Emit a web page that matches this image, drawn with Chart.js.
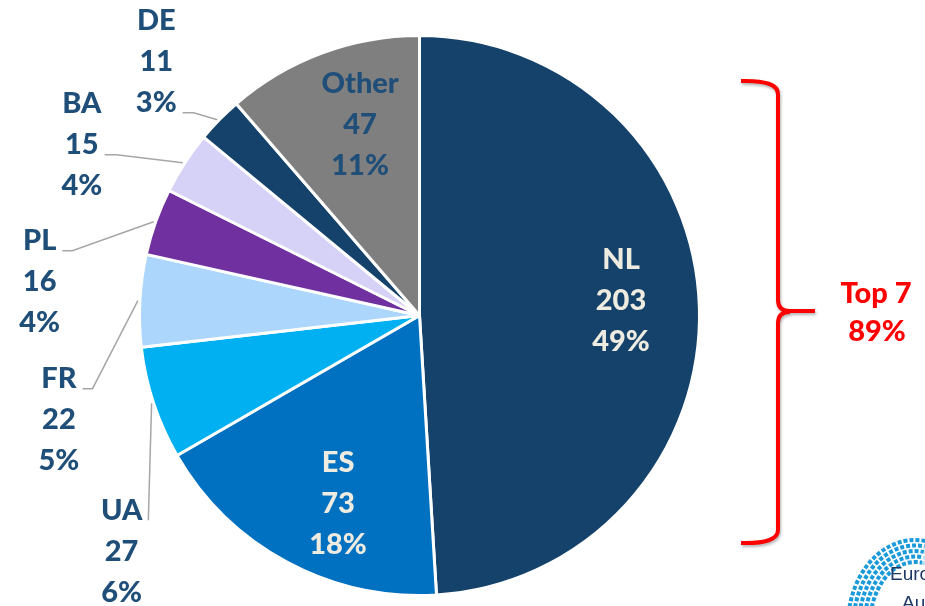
<!DOCTYPE html>
<html>
<head>
<meta charset="utf-8">
<script src="https://cdn.jsdelivr.net/npm/chart.js@4/dist/chart.umd.min.js"></script>
<style>
  html, body { margin: 0; padding: 0; background: #ffffff; }
  #wrap { width: 925px; height: 606px; position: relative; }
</style>
</head>
<body>
<div id="wrap"><canvas id="grafico" width="925" height="606"></canvas></div>
<script>
// Dados do gráfico
const paises = ["NL", "ES", "UA", "FR", "PL", "BA", "DE", "Other"];
const valores = [203, 73, 27, 22, 16, 15, 11, 47];
const percentuais = ["49%", "18%", "6%", "5%", "4%", "4%", "3%", "11%"];
const destaqueTexto = ["Top 7", "89%"];

// Estilos
const cores = ["#15426a", "#0070c0", "#00b0f0", "#add6fd", "#7030a0", "#d6d2f7", "#15426a", "#7f7f7f"];
const corTexto = "#1f4e79";
const corTextoClaro = "#eeece1";
const fonte = "900 29px Lato";
const entreLinhas = 41;

// posição dos rótulos (deslocamentos em relação à fatia)
const rotulos = [
    { dentro: true, dx: 0, dy: -9, claro: true },
    { dentro: true, dx: 14, dy: 11, claro: true },
    { dentro: false, dx: -32, dy: 148, ancora: 0, braco: 0 },
    { dentro: false, dx: -81, dy: 119, ancora: 0, braco: 10 },
    { dentro: false, dx: -116, dy: 60, ancora: 0, braco: 10 },
    { dentro: false, dx: -103, dy: -18, ancora: 1, braco: 12 },
    { dentro: false, dx: -63, dy: -58, ancora: 2, braco: 11 },
    { dentro: true, dx: 11, dy: -2, claro: false }
];

// Plugin para desenhar os rótulos, linhas de ligação e a chave vermelha
const pluginRotulos = {
    id: "rotulos",
    afterDraw(chart) {
        const ctx = chart.ctx;
        const arcos = chart.getDatasetMeta(0).data;
        ctx.save();
        ctx.font = fonte;
        ctx.textAlign = "center";
        ctx.textBaseline = "middle";

        arcos.forEach((arco, i) => {
            const p = arco.getProps(["x", "y", "startAngle", "endAngle", "outerRadius"], true);
            const meio = (p.startAngle + p.endAngle) / 2;
            const cfg = rotulos[i];
            const linhas = [paises[i], String(valores[i]), percentuais[i]];
            let cx, cy;
            if (cfg.dentro) {
                const r = p.outerRadius * 0.72;
                cx = p.x + Math.cos(meio) * r + cfg.dx;
                cy = p.y + Math.sin(meio) * r + cfg.dy;
                ctx.fillStyle = cfg.claro ? corTextoClaro : corTexto;
            } else {
                const bx = p.x + Math.cos(meio) * p.outerRadius;
                const by = p.y + Math.sin(meio) * p.outerRadius;
                cx = bx + cfg.dx;
                cy = by + cfg.dy;
                // linha de ligação
                const larg = ctx.measureText(linhas[cfg.ancora]).width;
                const fimX = cx + larg / 2 + 6;
                const fimY = cy + (cfg.ancora - 1) * entreLinhas + 10;
                ctx.strokeStyle = "#a6a6a6";
                ctx.lineWidth = 1.5;
                ctx.beginPath();
                ctx.moveTo(bx - 2, by);
                ctx.lineTo(fimX + cfg.braco, fimY);
                ctx.lineTo(fimX, fimY);
                ctx.stroke();
                ctx.fillStyle = corTexto;
            }
            linhas.forEach((t, k) => {
                ctx.fillText(t, cx, cy + (k - 1) * entreLinhas);
            });
        });

        // chave vermelha
        ctx.save();
        ctx.strokeStyle = "#ff0000";
        ctx.lineWidth = 4;
        ctx.lineJoin = "round";
        ctx.shadowColor = "rgba(0,0,0,0.3)";
        ctx.shadowBlur = 3;
        ctx.shadowOffsetX = 1;
        ctx.shadowOffsetY = 2;
        ctx.beginPath();
        ctx.moveTo(741, 81);
        ctx.quadraticCurveTo(778, 80, 778, 94);
        ctx.lineTo(778, 300);
        ctx.quadraticCurveTo(778, 311, 790, 311);
        ctx.lineTo(815, 311);
        ctx.moveTo(790, 312);
        ctx.quadraticCurveTo(778, 312, 778, 323);
        ctx.lineTo(778, 530);
        ctx.quadraticCurveTo(778, 544, 741, 543);
        ctx.stroke();
        ctx.restore();

        ctx.fillStyle = "#ff0000";
        ctx.fillText(destaqueTexto[0], 876, 294);
        ctx.fillText(destaqueTexto[1], 877, 332);

        // logotipo (aproximado)
        ctx.save();
        ctx.beginPath();
        ctx.rect(830, 520, 95, 86);
        ctx.clip();
        for (let k = 0; k < 5; k++) {
            ctx.strokeStyle = "#1a9ad9";
            ctx.lineWidth = 4;
            ctx.setLineDash([4, 2]);
            ctx.globalAlpha = 1;
            ctx.beginPath();
            ctx.ellipse(915, 625, 67 - k * 5.5, 85 - k * 5.5, 0, Math.PI, Math.PI * 1.55);
            ctx.stroke();
            ctx.globalAlpha = 0.3;
            ctx.beginPath();
            ctx.ellipse(915, 625, 67 - k * 5.5, 85 - k * 5.5, 0, Math.PI * 1.55, Math.PI * 1.75);
            ctx.stroke();
        }
        ctx.restore();
        ctx.font = "19px 'Liberation Sans Narrow', 'Liberation Sans'";
        ctx.fillStyle = "#1f3864";
        ctx.textAlign = "left";
        ctx.fillText("Euro", 890, 575);
        ctx.fillText("Auc", 902, 604);
        ctx.restore();
    }
};

new Chart(document.getElementById("grafico"), {
    type: "pie",
    data: {
        labels: paises,
        datasets: [{
            data: valores,
            backgroundColor: cores,
            borderColor: "#ffffff",
            borderWidth: 3
        }]
    },
    options: {
        responsive: false,
        animation: false,
        layout: { padding: { top: 34, bottom: 9, left: 138, right: 224 } },
        plugins: {
            legend: { display: false },
            tooltip: { enabled: false }
        }
    },
    plugins: [pluginRotulos]
});
</script>
</body>
</html>
